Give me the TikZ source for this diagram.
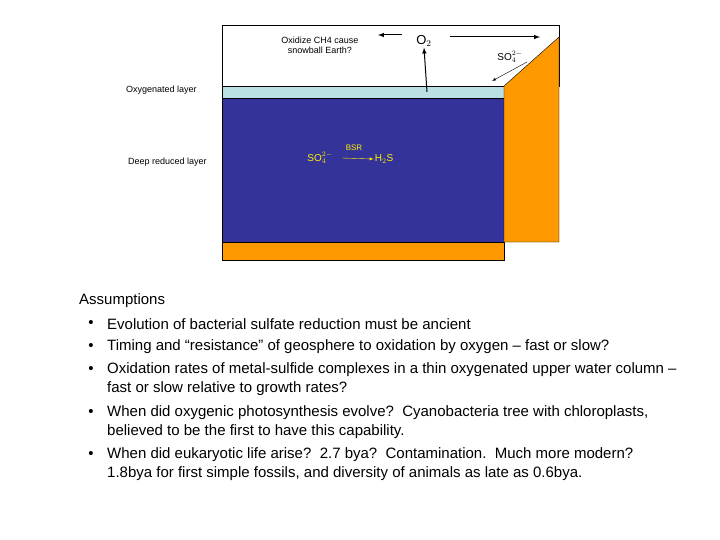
\documentclass[tikz,border=0pt]{standalone}
\usepackage{fontspec}
\setmainfont{Liberation Sans}
\begin{document}
\begin{tikzpicture}[x=1pt,y=-1pt,
  lbl/.style={font=\fontsize{9}{10}\selectfont,inner sep=0pt},
  big/.style={font=\fontsize{15}{23}\selectfont,inner sep=0pt,anchor=west},
  arr/.style={-latex,line width=1pt},
  bul/.style={font=\fontsize{15}{23}\selectfont,inner sep=0pt}]
\useasboundingbox (0,0) rectangle (720,540);
\fill[white] (0,0) rectangle (720,540);
\definecolor{deep}{RGB}{51,51,153}
\definecolor{oxy}{RGB}{187,224,227}
\definecolor{sed}{RGB}{255,153,0}
\draw[black] (222,25) rectangle (559,86);
\fill[oxy,draw=black] (222,86) rectangle (504,98);
\fill[deep,draw=black] (222,98) rectangle (504,242);
\fill[sed,draw=black] (222,242) rectangle (504,260);
\fill[sed,draw=black] (504,86) -- (559,37) -- (559,242) -- (504,242) -- cycle;
\node[lbl,align=center] (ox) at (320,45) {Oxidize CH4 cause\\snowball Earth?};
\node[inner sep=1pt,font=\fontsize{13}{13}\selectfont] (o2) at (424,41) {O$_2$};
\coordinate (la) at (378,35); \coordinate (ra) at (540,37);
\coordinate (ub) at (427,92);
\draw[arr] (402,35) -- (la);
\draw[arr] (450,37) -- (ra);
\draw[arr] (ub) -- (o2.south);
\node[font=\fontsize{10}{10}\selectfont] (so) at (510,57) {SO$_4^{2-}$};
\coordinate (s1) at (527,62); \coordinate (s2) at (492,81);
\draw[-latex,thin] (s1) -- (s2);
\node[lbl,anchor=west] (oxl) at (126,90) {Oxygenated layer};
\node[lbl,anchor=west] (drl) at (128,162) {Deep reduced layer};
\begin{scope}[yellow]
\node[font=\fontsize{10}{10}\selectfont,inner sep=1pt] (a) at (320,158) {SO$_4^{2-}$};
\node[font=\fontsize{10}{10}\selectfont,inner sep=1pt] (b) at (384,159) {H$_2$S};
\draw[-latex,thin] (342,158) -- (b.west);
\node[font=\fontsize{8}{8}\selectfont] (bsr) at (354,148) {BSR};
\end{scope}
\node[big] (t0) at (79,301) {Assumptions};
\foreach \y/\n in {324/1,347/2,370/3,413/4,455/5}{\node[bul] (b\n) at (91,\y) {•};}
\node[big] (t1) at (107,324) {Evolution of bacterial sulfate reduction must be ancient};
\node[big] (t2) at (107,347) {Timing and “resistance” of geosphere to oxidation by oxygen – fast or slow?};
\node[big] (t3) at (107,370) {Oxidation rates of metal-sulfide complexes in a thin oxygenated upper water column –};
\node[big] (t3b) at (107,389) {fast or slow relative to growth rates?};
\node[big] (t4) at (107,413) {When did oxygenic photosynthesis evolve?\ \ Cyanobacteria tree with chloroplasts,};
\node[big] (t4b) at (107,432) {believed to be the first to have this capability.};
\node[big] (t5) at (107,455) {When did eukaryotic life arise?\ \ 2.7 bya?\ \ Contamination.\ \ Much more modern?};
\node[big] (t5b) at (107,474) {1.8bya for first simple fossils, and diversity of animals as late as 0.6bya.};
\end{tikzpicture}
\end{document}
